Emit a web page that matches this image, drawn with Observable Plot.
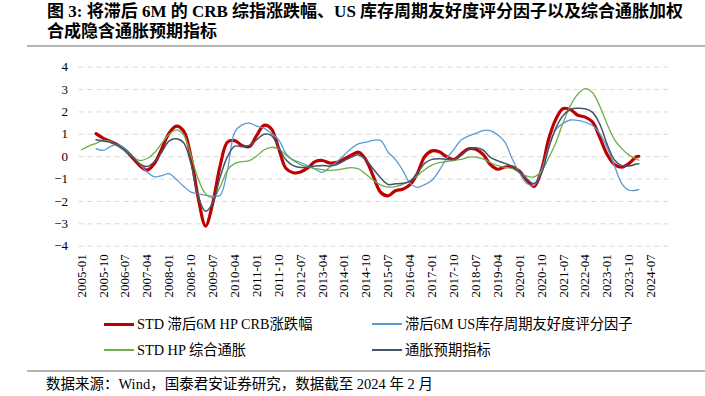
<!DOCTYPE html>
<html>
<head>
<meta charset="utf-8">
<script src="https://cdn.jsdelivr.net/npm/d3@7"></script>
<script src="https://cdn.jsdelivr.net/npm/@observablehq/plot@0.6"></script>
<style>
  html, body { margin: 0; padding: 0; background: #fff; }
  #wrap { position: relative; width: 705px; height: 396px; overflow: hidden; background: #fff;
          font-family: "Liberation Serif", "Noto Sans CJK SC", serif; color: #000; }
  #chart { position: absolute; left: 0; top: 0; }
  .title { position: absolute; left: 47px; font-size: 17px; font-weight: bold; line-height: 20px; white-space: nowrap; }
  .rule { position: absolute; left: 27px; width: 678px; height: 2px; background: #b4b4b4; }
  .leg { position: absolute; font-size: 14.3px; line-height: 16px; white-space: nowrap; display: flex; align-items: center; }
  .sw { display: inline-block; width: 30px; margin-right: 3px; }
  .src { position: absolute; left: 46px; top: 376px; font-size: 14.5px; line-height: 17px; white-space: nowrap; }
</style>
</head>
<body>
<div id="wrap">
  <div id="chart"></div>
  <div class="title" style="top:2px">图 3: 将滞后 6M 的 CRB 综指涨跌幅、US 库存周期友好度评分因子以及综合通胀加权</div>
  <div class="title" style="top:22px">合成隐含通胀预期指标</div>
  <div class="rule" style="top:45px"></div>
  <div class="leg" style="left:104px; top:316px"><span class="sw" style="height:3px;background:#C00000"></span><span id="l0"></span></div>
  <div class="leg" style="left:372px; top:316px"><span class="sw" style="height:1.5px;background:#5B9BD5"></span><span id="l1"></span></div>
  <div class="leg" style="left:104px; top:342px"><span class="sw" style="height:1.5px;background:#70AD47"></span><span id="l2"></span></div>
  <div class="leg" style="left:372px; top:342px"><span class="sw" style="height:1.5px;background:#44546A"></span><span id="l3"></span></div>
  <div class="rule" style="top:370px"></div>
  <div class="src">数据来源：Wind，国泰君安证券研究，数据截至 2024 年 2 月</div>
</div>
<script>
// ---- data ----
const dates = [
  "2005-01","2005-04","2005-07","2005-10","2006-01","2006-04","2006-07","2006-10",
  "2007-01","2007-04","2007-07","2007-10","2008-01","2008-04","2008-07","2008-10",
  "2009-01","2009-04","2009-07","2009-10","2010-01","2010-04","2010-07","2010-10",
  "2011-01","2011-04","2011-07","2011-10","2012-01","2012-04","2012-07","2012-10",
  "2013-01","2013-04","2013-07","2013-10","2014-01","2014-04","2014-07","2014-10",
  "2015-01","2015-04","2015-07","2015-10","2016-01","2016-04","2016-07","2016-10",
  "2017-01","2017-04","2017-07","2017-10","2018-01","2018-04","2018-07","2018-10",
  "2019-01","2019-04","2019-07","2019-10","2020-01","2020-04","2020-07","2020-10",
  "2021-01","2021-04","2021-07","2021-10","2022-01","2022-04","2022-07","2022-10",
  "2023-01","2023-04","2023-07","2023-10","2024-01","2024-02"
];
const seriesNames = ["STD 滞后6M HP CRB涨跌幅", "滞后6M US库存周期友好度评分因子", "STD HP 综合通胀", "通胀预期指标"];
const crb = [
  null, null, 1.03, 0.82, 0.68, 0.52, 0.30, -0.05, -0.40, -0.60, -0.30, 0.35,
  1.05, 1.37, 1.15, 0.00, -1.85, -3.10, -2.05, -0.40, 0.65, 0.72, 0.50, 0.45,
  0.95, 1.40, 1.25, 0.38, -0.52, -0.72, -0.68, -0.50, -0.22, -0.17, -0.28, -0.25,
  -0.10, 0.08, 0.20, -0.16, -0.90, -1.60, -1.75, -1.52, -1.45, -1.25, -0.75, 0.00,
  0.26, 0.22, 0.00, -0.13, 0.12, 0.35, 0.33, 0.10, -0.35, -0.56, -0.46, -0.45,
  -0.65, -1.05, -1.33, -0.60, 0.80, 1.70, 2.15, 2.10, 1.85, 1.77, 1.55, 0.85,
  0.10, -0.35, -0.47, -0.30, 0.00, 0.02
];
const usInv = [
  null, null, 0.36, 0.28, 0.46, 0.55, 0.33, 0.00, -0.33, -0.68, -0.90, -0.85,
  -0.76, -1.02, -1.32, -1.58, -1.66, -1.73, -1.76, -1.72, -0.60, 1.10, 1.42, 1.50,
  1.37, 1.28, 1.04, 0.76, 0.15, -0.14, -0.26, -0.40, -0.56, -0.70, -0.47, -0.22,
  0.08, 0.38, 0.58, 0.65, 0.73, 0.72, 0.20, -0.13, -0.60, -1.18, -1.37, -1.25,
  -1.05, -0.62, -0.08, 0.32, 0.75, 0.92, 1.04, 1.17, 1.17, 0.98, 0.65, -0.10,
  -0.72, -1.20, -1.27, -0.62, 0.45, 1.22, 1.50, 1.64, 1.62, 1.54, 1.39, 1.03,
  0.40, -0.40, -1.20, -1.50, -1.50, -1.46
];
const cpi = [
  0.31, 0.47, 0.60, 0.73, 0.68, 0.48, 0.25, 0.00, -0.17, -0.08, 0.18, 0.60,
  1.00, 1.20, 0.98, 0.06, -1.00, -1.65, -1.83, -1.35, -0.60, -0.30, -0.22, -0.18,
  0.03, 0.30, 0.42, 0.35, 0.08, -0.17, -0.35, -0.46, -0.53, -0.58, -0.61, -0.59,
  -0.53, -0.49, -0.55, -0.80, -1.05, -1.27, -1.36, -1.34, -1.24, -1.07, -0.85, -0.58,
  -0.38, -0.27, -0.22, -0.16, -0.12, -0.02, -0.02, -0.10, -0.26, -0.40, -0.47, -0.53,
  -0.72, -0.87, -0.90, -0.65, -0.05, 0.65, 1.55, 2.30, 2.80, 3.04, 2.86, 2.25,
  1.45, 0.76, 0.36, 0.07, -0.10, -0.16
];
const expect = [
  null, null, 0.76, 0.70, 0.65, 0.52, 0.27, 0.00, -0.32, -0.44, -0.22, 0.20,
  0.70, 0.80, 0.62, -0.31, -1.80, -2.44, -2.05, -0.90, 0.00, 0.47, 0.45, 0.50,
  0.76, 1.00, 0.95, 0.42, -0.14, -0.40, -0.48, -0.47, -0.42, -0.39, -0.42, -0.35,
  -0.18, -0.02, 0.08, -0.16, -0.56, -0.95, -1.24, -1.21, -1.19, -1.10, -0.73, -0.30,
  -0.12, -0.09, -0.12, -0.12, 0.05, 0.33, 0.40, 0.30, -0.03, -0.18, -0.30, -0.43,
  -0.68, -1.00, -1.20, -0.75, 0.40, 1.30, 1.85, 2.12, 2.17, 2.14, 1.98, 1.45,
  0.55, -0.15, -0.40, -0.42, -0.33, -0.31
];
const seriesColors = ["#C00000", "#5B9BD5", "#70AD47", "#44546A"];
const xTickLabels = [
  "2005-01","2005-10","2006-07","2007-04","2008-01","2008-10","2009-07","2010-04","2011-01",
  "2011-10","2012-07","2013-04","2014-01","2014-10","2015-07","2016-04","2017-01","2017-10",
  "2018-07","2019-04","2020-01","2020-10","2021-07","2022-04","2023-01","2023-10","2024-07"
];
const yTicks = [-4, -3, -2, -1, 0, 1, 2, 3, 4];

// ---- build ----
const monthIndex = s => { const [y, m] = s.split("-").map(Number); return (y - 2005) * 12 + (m - 1); };
const labelOf = new Map(xTickLabels.map(s => [monthIndex(s), s]));
const rows = (vals) => dates.map((d, i) => ({ m: monthIndex(d), v: vals[i] })).filter(r => r.v != null);
const allSeries = [crb, usInv, cpi, expect];
const widths = [3.2, 1.3, 1.3, 1.5];

seriesNames.forEach((n, i) => { document.getElementById("l" + i).textContent = n; });

const chart = Plot.plot({
  width: 705,
  height: 310,
  marginLeft: 78.5,
  marginRight: 37,
  marginTop: 66.7,
  marginBottom: 64.3,
  style: { fontFamily: '"Liberation Serif", "Noto Sans CJK SC", serif', fontSize: "13px", color: "#000", background: "transparent" },
  x: { domain: [-1, 241.2], ticks: xTickLabels.map(monthIndex), tickFormat: m => labelOf.get(m), tickRotate: -90, tickSize: 0, tickPadding: 8, label: null },
  y: { domain: [-4, 4], ticks: yTicks, tickSize: 0, tickPadding: 11, label: null },
  marks: [
    Plot.ruleY(yTicks, { stroke: "#d9d9d9", strokeWidth: 1, strokeDasharray: "5,4" }),
    ...allSeries.map((vals, i) => Plot.line(rows(vals), {
      x: "m", y: "v", stroke: seriesColors[i], strokeWidth: widths[i], curve: "catmull-rom"
    }))
  ]
});
document.getElementById("chart").appendChild(chart);
</script>
</body>
</html>
